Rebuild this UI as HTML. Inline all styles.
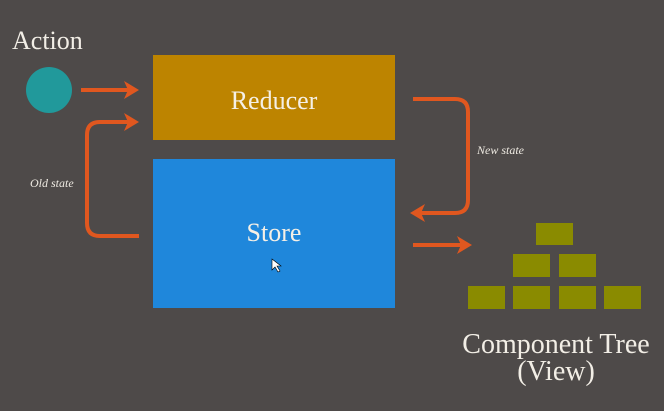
<!DOCTYPE html>
<html><head><meta charset="utf-8"><style>
body{margin:0;width:664px;height:406px;background:#4e4a49;overflow:hidden;font-family:"Liberation Serif",serif;}
</style></head><body>
<svg width="664" height="406" viewBox="0 0 664 406" xmlns="http://www.w3.org/2000/svg">
<rect width="664" height="406" fill="#4e4a49"/>
<text x="12" y="49" font-size="26" fill="#f2eee6" font-family="Liberation Serif,serif">Action</text>
<circle cx="49" cy="90" r="23" fill="#21999b"/>
<rect x="153" y="55" width="242" height="85" fill="#bd8400"/>
<text x="274" y="109" font-size="26" fill="#f5f0e6" text-anchor="middle">Reducer</text>
<rect x="153" y="159" width="242" height="149" fill="#1f87db"/>
<text x="274" y="241" font-size="26" fill="#f5f0e6" text-anchor="middle">Store</text>
<g stroke="#e0571f" stroke-width="4" fill="none">
<line x1="81" y1="90" x2="128" y2="90"/>
<path d="M139 236 H100 Q87 236 87 223 V135 Q87 122 100 122 H128"/>
<path d="M413 99 H455 Q468 99 468 112 V200 Q468 213 455 213 H420"/>
<line x1="413" y1="245" x2="461" y2="245"/>
</g>
<g fill="#e0571f">
<polygon points="139,90 124,81 128,90 124,99"/>
<polygon points="139,122 124,113 128,122 124,131"/>
<polygon points="410,213 425,204 421,213 425,222"/>
<polygon points="472,245 457,236 461,245 457,254"/>
</g>
<text x="30" y="187" font-size="12" font-style="italic" fill="#eeeae2">Old state</text>
<text x="477" y="154" font-size="12" font-style="italic" fill="#eeeae2">New state</text>
<g fill="#8a8b00">
<rect x="536" y="223" width="37" height="22"/>
<rect x="513" y="254" width="37" height="23"/>
<rect x="559" y="254" width="37" height="23"/>
<rect x="468" y="286" width="37" height="23"/>
<rect x="513" y="286" width="37" height="23"/>
<rect x="559" y="286" width="37" height="23"/>
<rect x="604" y="286" width="37" height="23"/>
</g>
<text x="556" y="353" font-size="28" fill="#f2eee6" text-anchor="middle">Component Tree</text>
<text x="556" y="380" font-size="28" fill="#f2eee6" text-anchor="middle">(View)</text>
<path d="M272 259 L272 270 L275 267 L278 272 L280 271 L277 266 L281 266 Z" fill="#fff" stroke="#000" stroke-width="0.6"/>
</svg>
</body></html>
